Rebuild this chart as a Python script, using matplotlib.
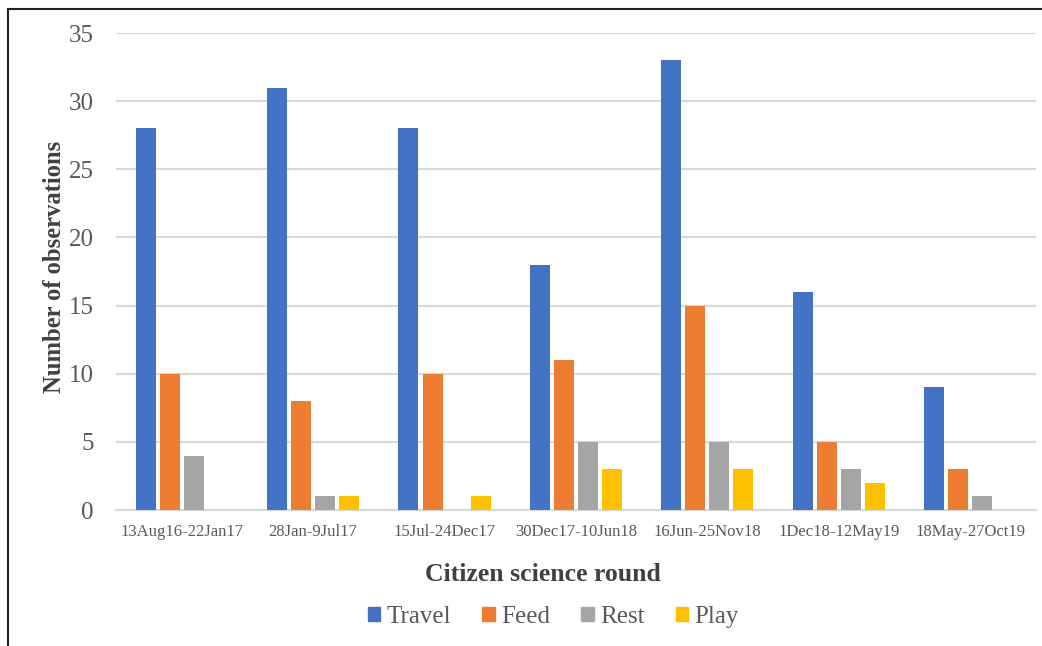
import numpy as np
import matplotlib.pyplot as plt
from matplotlib.lines import Line2D

rounds = ['13Aug16-22Jan17', '28Jan-9Jul17', '15Jul-24Dec17', '30Dec17-10Jun18',
          '16Jun-25Nov18', '1Dec18-12May19', '18May-27Oct19']
travel = [28, 31, 28, 18, 33, 16, 9]
feed = [10, 8, 10, 11, 15, 5, 3]
rest = [4, 1, 0, 5, 5, 3, 1]
play = [0, 1, 1, 3, 3, 2, 0]

series = [('Travel', travel, '#4472C4'), ('Feed', feed, '#ED7D31'),
          ('Rest', rest, '#A5A5A5'), ('Play', play, '#FFC000')]

plt.rcParams['font.family'] = ['Liberation Serif', 'DejaVu Serif']

fig = plt.figure(figsize=(10.42, 6.46), dpi=100)
ax = fig.add_axes([0.1113, 0.2105, 0.8829, 0.7384])

x = np.arange(len(rounds))
width = 0.152
step = 0.183
for i, (name, vals, col) in enumerate(series):
    ax.bar(x + (i - 1.5) * step, vals, width, color=col, label=name, zorder=3)

ax.set_xlim(-0.5, len(rounds) - 0.5)
ax.set_ylim(0, 35)
ax.set_yticks(range(0, 36, 5))
ax.yaxis.grid(True, color='#D9D9D9', linewidth=1.5, zorder=0)
ax.set_xticks(x)
ax.set_xticklabels(rounds, fontsize=12, color='#595959')
ax.tick_params(axis='y', labelsize=18, labelcolor='#595959', length=0, pad=16)
ax.tick_params(axis='x', length=0, pad=10)
for s in ['top', 'right', 'left']:
    ax.spines[s].set_visible(False)
ax.spines['bottom'].set_color('#D9D9D9')
ax.spines['bottom'].set_linewidth(1.5)

ax.set_ylabel('Number of observations', fontsize=17.7, fontweight='bold', color='#404040')
ax.yaxis.set_label_coords(-0.054, 0.51)
fig.text(0.521, 0.111, 'Citizen science round', fontsize=18.5, fontweight='bold',
         color='#404040', ha='center', va='center')

handles = [plt.Rectangle((0, 0), 1, 1, color=c) for _, _, c in series]
fig.legend(handles, [n for n, _, _ in series], loc='center', bbox_to_anchor=(0.531, 0.045),
           ncol=4, frameon=False, fontsize=18, labelcolor='#595959',
           handlelength=0.5, handleheight=0.5, handletextpad=0.25, columnspacing=1.25)

# outer frame (cropped at right and bottom)
fig.add_artist(Line2D([0.008, 0.008], [0.0, 0.986], transform=fig.transFigure, color='#222222', linewidth=1.5))
fig.add_artist(Line2D([0.008, 1.0], [0.986, 0.986], transform=fig.transFigure, color='#222222', linewidth=1.5))

fig.savefig('out.png', dpi=100)
